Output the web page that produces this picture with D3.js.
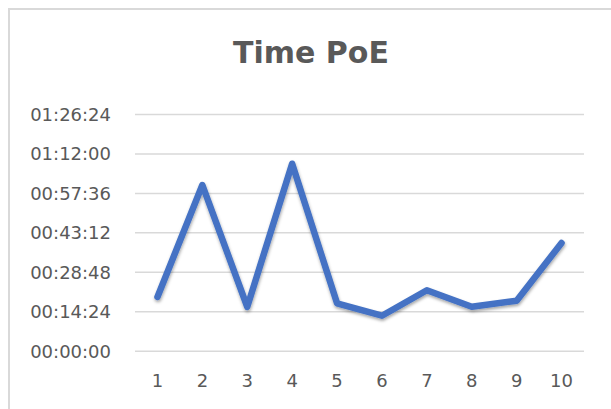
<!DOCTYPE html>
<html>
<head>
<meta charset="utf-8">
<script src="https://cdn.jsdelivr.net/npm/d3@7"></script>
<style>
    body { margin: 0; background: #fff; }
    svg { display: block; }
</style>
</head>
<body>
<div id="chart"></div>
<script>
const title = 'Time PoE'
const categories = ['1', '2', '3', '4', '5', '6', '7', '8', '9', '10']
const times = ['00:19:36', '01:00:29', '00:16:00', '01:08:15', '00:17:18',
    '00:12:46', '00:22:03', '00:16:04', '00:18:15', '00:39:19']
const yTicks = ['00:00:00', '00:14:24', '00:28:48', '00:43:12', '00:57:36', '01:12:00', '01:26:24']

class TimeChart {
    constructor(config) {
        this.width = config.width
        this.height = config.height
        this.plot = config.plot
        this.font = '"DejaVu Sans", sans-serif'
    }

    toSeconds(s) {
        const p = s.split(':').map(Number)
        return p[0] * 3600 + p[1] * 60 + p[2]
    }

    toLabel(sec) {
        const pad = v => String(v).padStart(2, '0')
        return `${pad(Math.floor(sec / 3600))}:${pad(Math.floor(sec / 60) % 60)}:${pad(sec % 60)}`
    }

    init() {
        this.data = categories.map((c, i) => ({ cat: c, value: this.toSeconds(times[i]) }))
        this.tickValues = yTicks.map(t => this.toSeconds(t))

        this.x = d3.scaleBand()
            .domain(categories)
            .range([this.plot.left, this.plot.right])

        this.y = d3.scaleLinear()
            .domain(d3.extent(this.tickValues))
            .range([this.plot.bottom, this.plot.top])

        this.set()
    }

    set() {
        this.svg = d3.select('#chart').append('svg')
            .attr('width', this.width)
            .attr('height', this.height)

        // chart area border
        this.svg.append('rect')
            .attr('x', 9)
            .attr('y', 9)
            .attr('width', this.width + 20)
            .attr('height', this.height + 20)
            .style('fill', '#fff')
            .style('stroke', '#d9d9d9')
            .style('stroke-width', 2)

        const defs = this.svg.append('defs')
        const shadow = defs.append('filter')
            .attr('id', 'shadow')
            .attr('x', '-10%').attr('y', '-10%')
            .attr('width', '120%').attr('height', '130%')
        shadow.append('feDropShadow')
            .attr('dx', 0.5).attr('dy', 2)
            .attr('stdDeviation', 1.6)
            .attr('flood-color', '#000')
            .attr('flood-opacity', 0.35)

        this.svg.append('text')
            .attr('x', 311)
            .attr('y', 63)
            .attr('text-anchor', 'middle')
            .style('font-family', this.font)
            .style('font-weight', 'bold')
            .style('font-size', '30px')
            .style('fill', '#595959')
            .text(title)

        this.drawAxes()
        this.drawLine()
    }

    //----------------------------------------------------------
    // gridlines and tick labels
    drawAxes() {
        const yAxis = d3.axisLeft(this.y)
            .tickValues(this.tickValues)
            .tickSize(-(this.plot.right - this.plot.left))
            .tickPadding(24)
            .tickFormat(d => this.toLabel(d))

        const gy = this.svg.append('g')
            .attr('transform', `translate(${this.plot.left},0)`)
            .call(yAxis)
        gy.select('.domain').remove()
        gy.selectAll('.tick line')
            .style('stroke', '#d9d9d9')
            .style('stroke-width', 1.5)
        gy.selectAll('.tick text')
            .attr('dy', '0.36em')
            .style('font-family', this.font)
            .style('font-size', '18px')
            .style('fill', '#595959')

        const xAxis = d3.axisBottom(this.x)
            .tickSize(0)
            .tickPadding(24)

        const gx = this.svg.append('g')
            .attr('transform', `translate(0,${this.plot.bottom})`)
            .call(xAxis)
        gx.select('.domain').remove()
        gx.selectAll('.tick text')
            .style('font-family', this.font)
            .style('font-size', '18px')
            .style('fill', '#595959')
    }

    drawLine() {
        const line = d3.line()
            .x(d => this.x(d.cat) + this.x.bandwidth() / 2)
            .y(d => this.y(d.value))

        this.svg.append('path')
            .datum(this.data)
            .attr('d', line)
            .attr('filter', 'url(#shadow)')
            .style('fill', 'none')
            .style('stroke', '#4472c4')
            .style('stroke-width', 6.5)
            .style('stroke-linecap', 'round')
            .style('stroke-linejoin', 'round')
    }
}

const chart = new TimeChart({
    width: 611,
    height: 409,
    plot: { left: 135, right: 584, top: 114, bottom: 350.7 }
})
chart.init()
</script>
</body>
</html>
